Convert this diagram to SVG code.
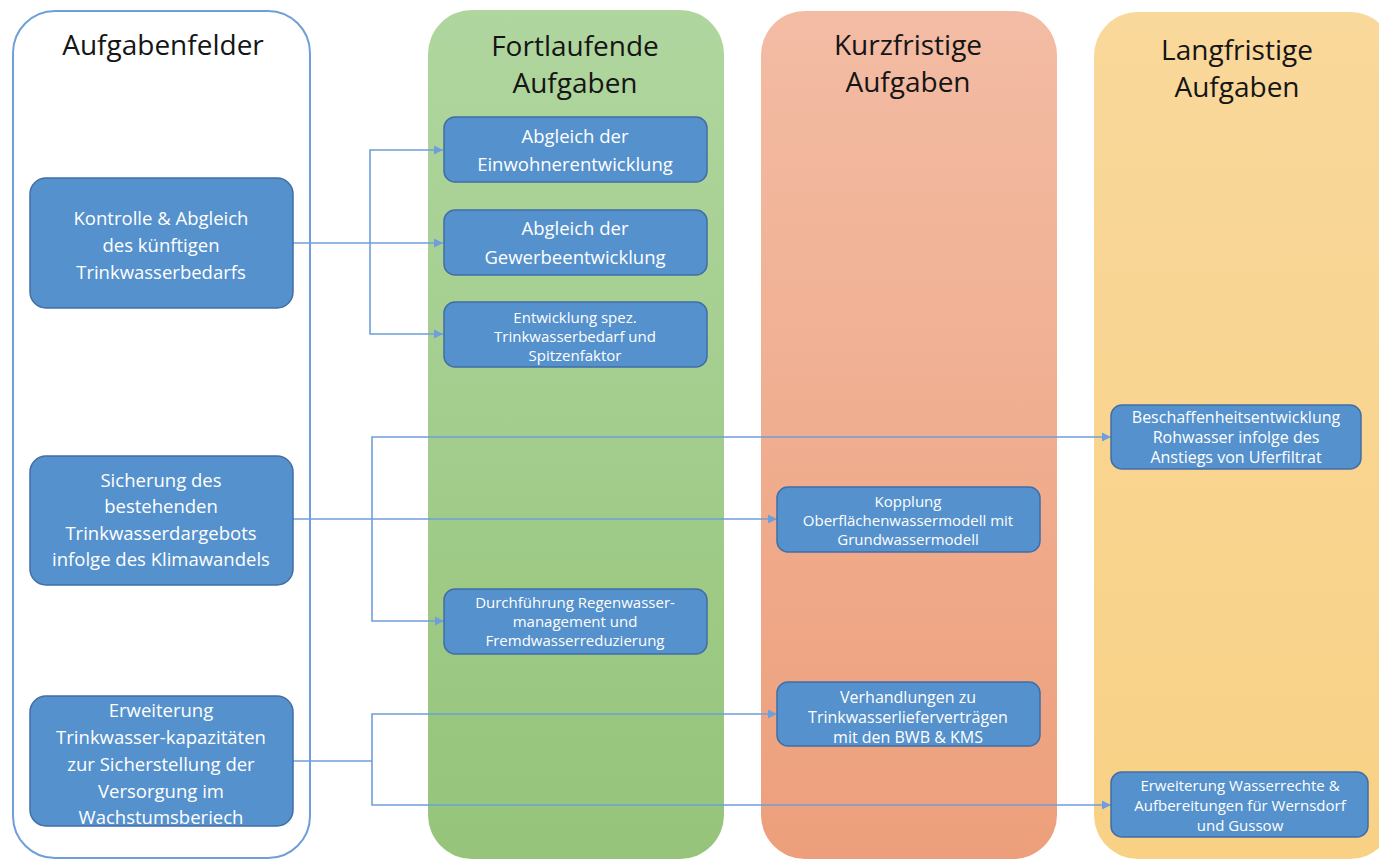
<svg xmlns="http://www.w3.org/2000/svg" width="1379" height="860" viewBox="0 0 1379 860">
<defs>
<linearGradient id="gGreen" x1="0" y1="0" x2="0" y2="1"><stop offset="0" stop-color="#b0d69f"/><stop offset="1" stop-color="#95c47a"/></linearGradient>
<linearGradient id="gRed" x1="0" y1="0" x2="0" y2="1"><stop offset="0" stop-color="#f3bca4"/><stop offset="1" stop-color="#ed9f7b"/></linearGradient>
<linearGradient id="gYel" x1="0" y1="0" x2="0" y2="1"><stop offset="0" stop-color="#f9d89b"/><stop offset="1" stop-color="#f8d185"/></linearGradient>
<marker id="arr" markerUnits="userSpaceOnUse" markerWidth="10" markerHeight="10" refX="9" refY="5" orient="auto"><path d="M0,0.5 L9,5 L0,9.5 z" fill="#6f9fd9"/></marker>
<style>
.hdr{font-family:"Open Sans","Liberation Sans",sans-serif;font-size:28px;fill:#151515;text-anchor:middle}
.node{fill:#5591cc;stroke:#426ea6;stroke-width:1.5}
.t{font-family:"Open Sans","Liberation Sans",sans-serif;fill:#ffffff;text-anchor:middle}
.t18{font-size:18.5px}
.t16{font-size:16px}
.t15{font-size:15px}
</style>
</defs>
<rect width="1379" height="860" fill="#ffffff"/>
<g id="col-aufgabenfelder">
<rect x="13" y="11" width="297" height="847" rx="42" fill="#ffffff" stroke="#6f9fd9" stroke-width="2"/>
<text class="hdr" x="163" y="55">Aufgabenfelder</text>
</g>
<g id="col-fortlaufend">
<rect x="428" y="10" width="296" height="849" rx="44" fill="url(#gGreen)"/>
<text class="hdr" x="575" y="56">Fortlaufende</text>
<text class="hdr" x="575" y="93">Aufgaben</text>
</g>
<g id="col-kurzfristig">
<rect x="761" y="11" width="296" height="848" rx="44" fill="url(#gRed)"/>
<text class="hdr" x="908" y="55">Kurzfristige</text>
<text class="hdr" x="908" y="92">Aufgaben</text>
</g>
<g id="col-langfristig">
<rect x="1094" y="12" width="300" height="847" rx="44" fill="url(#gYel)"/>
<text class="hdr" x="1237" y="60">Langfristige</text>
<text class="hdr" x="1237" y="97">Aufgaben</text>
</g>
<g id="connectors" fill="none" stroke="#6f9fd9" stroke-width="1.6">
<path d="M293,243 H443" marker-end="url(#arr)"/>
<path d="M370,243 V150 H443" marker-end="url(#arr)"/>
<path d="M370,243 V334 H443" marker-end="url(#arr)"/>
<path d="M293,519 H777" marker-end="url(#arr)"/>
<path d="M372,519 V437 H1111" marker-end="url(#arr)"/>
<path d="M372,519 V621 H444" marker-end="url(#arr)"/>
<path d="M293,761 H372"/>
<path d="M372,761 V714 H777" marker-end="url(#arr)"/>
<path d="M372,761 V805 H1111" marker-end="url(#arr)"/>
</g>
<g id="n-kontrolle">
<rect class="node" x="30" y="178" width="263" height="130" rx="16"/>
<text class="t t18"><tspan x="161" y="225">Kontrolle &amp; Abgleich</tspan><tspan x="161" y="252">des künftigen</tspan><tspan x="161" y="279">Trinkwasserbedarfs</tspan></text>
</g>
<g id="n-sicherung">
<rect class="node" x="30" y="456" width="263" height="129" rx="16"/>
<text class="t t18"><tspan x="161" y="487">Sicherung des</tspan><tspan x="161" y="513">bestehenden</tspan><tspan x="161" y="540">Trinkwasserdargebots</tspan><tspan x="161" y="566">infolge des Klimawandels</tspan></text>
</g>
<g id="n-erweiterung">
<rect class="node" x="30" y="696" width="263" height="130" rx="16"/>
<text class="t t18"><tspan x="161" y="717">Erweiterung</tspan><tspan x="161" y="744">Trinkwasser-kapazitäten</tspan><tspan x="161" y="771">zur Sicherstellung der</tspan><tspan x="161" y="798">Versorgung im</tspan><tspan x="161" y="824">Wachstumsberiech</tspan></text>
</g>
<g id="n-einwohner">
<rect class="node" x="444" y="117" width="263" height="65" rx="11"/>
<text class="t t18"><tspan x="575" y="143">Abgleich der</tspan><tspan x="575" y="171">Einwohnerentwicklung</tspan></text>
</g>
<g id="n-gewerbe">
<rect class="node" x="444" y="210" width="263" height="65" rx="11"/>
<text class="t t18"><tspan x="575" y="235">Abgleich der</tspan><tspan x="575" y="264">Gewerbeentwicklung</tspan></text>
</g>
<g id="n-spez">
<rect class="node" x="444" y="302" width="263" height="65" rx="11"/>
<text class="t t15"><tspan x="575" y="323">Entwicklung spez.</tspan><tspan x="575" y="342">Trinkwasserbedarf und</tspan><tspan x="575" y="361">Spitzenfaktor</tspan></text>
</g>
<g id="n-regenwasser">
<rect class="node" x="444" y="589" width="263" height="65" rx="11"/>
<text class="t t15"><tspan x="575" y="608">Durchführung Regenwasser-</tspan><tspan x="575" y="627">management und</tspan><tspan x="575" y="646">Fremdwasserreduzierung</tspan></text>
</g>
<g id="n-kopplung">
<rect class="node" x="777" y="487" width="263" height="65" rx="11"/>
<text class="t t15"><tspan x="908" y="507">Kopplung</tspan><tspan x="908" y="526">Oberflächenwassermodell mit</tspan><tspan x="908" y="545">Grundwassermodell</tspan></text>
</g>
<g id="n-verhandlungen">
<rect class="node" x="777" y="682" width="263" height="64" rx="11"/>
<text class="t t16"><tspan x="908" y="703">Verhandlungen zu</tspan><tspan x="908" y="723">Trinkwasserlieferverträgen</tspan><tspan x="908" y="743">mit den BWB &amp; KMS</tspan></text>
</g>
<g id="n-beschaffenheit">
<rect class="node" x="1111" y="405" width="250" height="64" rx="11"/>
<text class="t t16"><tspan x="1236" y="423">Beschaffenheitsentwicklung</tspan><tspan x="1236" y="443">Rohwasser infolge des</tspan><tspan x="1236" y="463">Anstiegs von Uferfiltrat</tspan></text>
</g>
<g id="n-wasserrechte">
<rect class="node" x="1111" y="772" width="257" height="65" rx="11"/>
<text class="t t15"><tspan x="1240" y="791">Erweiterung Wasserrechte  &amp;</tspan><tspan x="1240" y="811">Aufbereitungen für Wernsdorf</tspan><tspan x="1240" y="831">und Gussow</tspan></text>
</g>
</svg>
